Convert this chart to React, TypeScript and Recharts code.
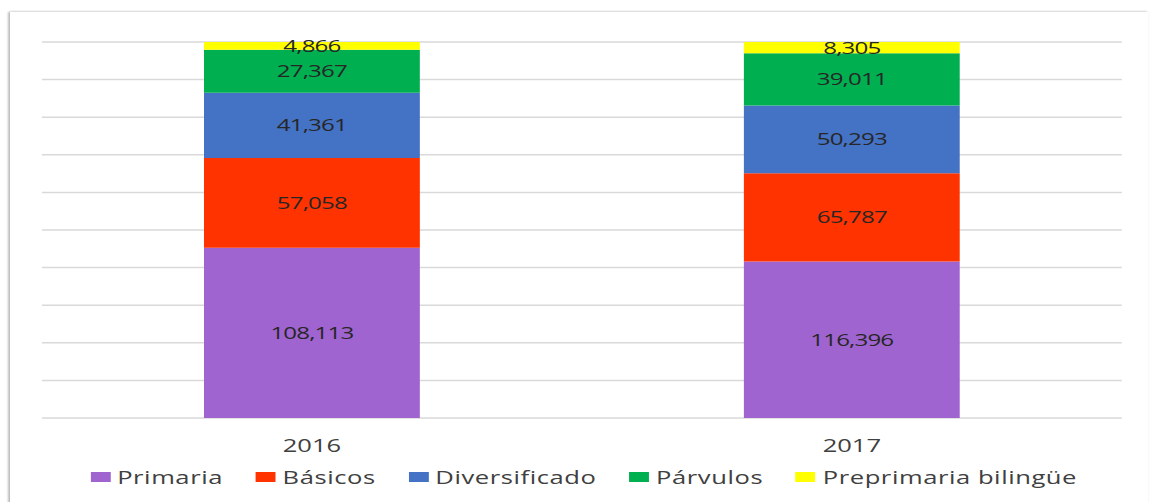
import { Bar, BarChart, CartesianGrid, LabelList, XAxis, YAxis } from "recharts";

const years = ["2016", "2017"];
const primaria = [108113, 116396];
const basicos = [57058, 65787];
const diversificado = [41361, 50293];
const parvulos = [27367, 39011];
const preprimaria = [4866, 8305];
const gridTicks = [0, 0.1, 0.2, 0.3, 0.4, 0.5, 0.6, 0.7, 0.8, 0.9, 1];

const SERIES = [
  { key: "primaria", name: "Primaria", color: "#A064D0" },
  { key: "basicos", name: "Básicos", color: "#FF3300" },
  { key: "diversificado", name: "Diversificado", color: "#4472C4" },
  { key: "parvulos", name: "Párvulos", color: "#00B050" },
  { key: "preprimaria", name: "Preprimaria bilingüe", color: "#FFFF00" },
];

const rows = years.map((year, i) => ({
  year,
  primaria: primaria[i],
  basicos: basicos[i],
  diversificado: diversificado[i],
  parvulos: parvulos[i],
  preprimaria: preprimaria[i],
}));

const FONT = "'Open Sans', 'Noto Sans', sans-serif";
const fmt = (v: any) => Number(v).toLocaleString("en-US");

// the source image is stretched sideways, so draw narrow and scale up
const SX = 1.42;
const W = 812;

export default function App() {
  return (
    <div
      style={{
        position: "fixed",
        left: 0,
        top: 0,
        width: 1153,
        height: 502,
        background: "#fff",
        fontFamily: FONT,
        overflow: "hidden",
      }}
    >
      <div
        style={{
          position: "absolute",
          left: 10,
          top: 12,
          width: 1138,
          height: 492,
          background: "#fff",
          boxShadow: "-2px 0 2px rgba(0,0,0,0.25), 0 -1px 2px rgba(0,0,0,0.08)",
        }}
      />
      <div
        style={{
          position: "absolute",
          left: 0,
          top: 0,
          width: W,
          height: 502,
          transform: `scaleX(${SX})`,
          transformOrigin: "0 0",
        }}
      >
        <BarChart
          width={W}
          height={502}
          data={rows}
          stackOffset="expand"
          barCategoryGap="30%"
          margin={{ top: 42, right: 22, left: 29.6, bottom: 0 }}
        >
          <CartesianGrid vertical={false} stroke="#d9d9d9" strokeWidth={1.5} />
          <YAxis hide domain={[0, 1]} ticks={gridTicks} />
          <XAxis
            dataKey="year"
            height={84}
            tickLine={false}
            axisLine={false}
            tick={{ fill: "#404040", fontSize: 18, fontFamily: FONT, dy: 13 }}
          />
          {SERIES.map((s) => (
            <Bar
              key={s.key}
              dataKey={s.key}
              name={s.name}
              stackId="a"
              fill={s.color}
              isAnimationActive={false}
            >
              <LabelList
                dataKey={s.key}
                position="center"
                formatter={fmt}
                fill="#262626"
                fontSize={17}
                fontFamily={FONT}
                letterSpacing={-0.6}
              />
            </Bar>
          ))}
        </BarChart>
        <div
          style={{
            position: "absolute",
            top: 465,
            left: 0,
            width: W,
            display: "flex",
            justifyContent: "center",
            gap: 23,
            paddingLeft: 10,
            boxSizing: "border-box",
            color: "#404040",
            fontSize: 18,
            lineHeight: "24px",
            letterSpacing: 0.4,
          }}
        >
          {SERIES.map((s) => (
            <div key={s.key} style={{ display: "flex", alignItems: "center", gap: 5 }}>
              <span style={{ width: 14, height: 10, background: s.color, display: "inline-block" }} />
              <span>{s.name}</span>
            </div>
          ))}
        </div>
      </div>
    </div>
  );
}
